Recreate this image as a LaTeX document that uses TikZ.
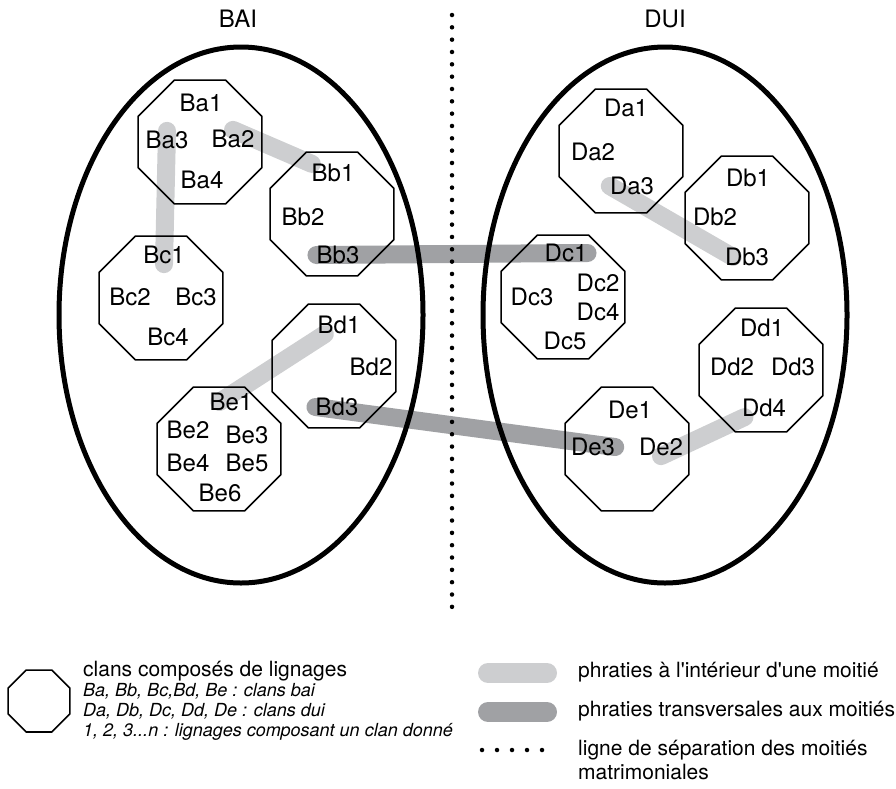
\documentclass[tikz,border=0pt]{standalone}
\usepackage{fontspec}
\setmainfont{TeX Gyre Heros}
\usetikzlibrary{shapes.geometric,backgrounds}
\definecolor{grisclair}{RGB}{205,206,208}
\definecolor{grisfonce}{RGB}{160,161,164}

\begin{document}
\begin{tikzpicture}[x=1pt,y=-1pt,
    moitie/.style ={ellipse, draw, line width=5pt, minimum width=364pt, minimum height=536pt, inner sep=0pt},
    clan/.style ={regular polygon, regular polygon sides=8, draw, line width=1.6pt, minimum size=134pt, inner sep=0pt},
    lignage/.style ={inner sep=0pt, font=\fontsize{24}{24}\selectfont},
    titre/.style ={anchor=base, inner sep=0pt, font=\fontsize{24}{24}\selectfont},
    legende/.style ={anchor=base west, inner sep=0pt, font=\fontsize{21}{21}\selectfont},
    detail/.style ={anchor=base west, inner sep=0pt, font=\fontsize{18}{18}\selectfont\itshape},
    intra/.style ={line width=18pt, line cap=round, grisclair},
    trans/.style ={line width=18pt, line cap=round, grisfonce},
    separation/.style ={line width=4.5pt, line cap=round, dash pattern=on 0pt off 12.33pt}]
   \useasboundingbox (0,0) rectangle (896,788);

   % les deux moities
   \node[titre] (bai) at (238,27) {BAI};
   \node[titre] (dui) at (665,27) {DUI};
   \node[moitie] (Bai) at (241,315) {};
   \node[moitie] (Dui) at (665,315) {};
   \coordinate (haut) at (452,15);
   \coordinate (bas) at (452,607);
   \draw[separation] (haut) to (bas);

   % clans bai
   \node[clan] (Ba) at (200,142) {};
   \node[clan] (Bb) at (332,214) {};
   \node[clan] (Bc) at (161,298) {};
   \node[clan] (Bd) at (334,366) {};
   \node[clan] (Be) at (219,449) {};
   \node[lignage] (Ba1) at (201,103) {Ba1};
   \node[lignage] (Ba2) at (233,139) {Ba2};
   \node[lignage] (Ba3) at (167,140) {Ba3};
   \node[lignage] (Ba4) at (202,180) {Ba4};
   \node[lignage] (Bb1) at (333,173) {Bb1};
   \node[lignage] (Bb2) at (303,217) {Bb2};
   \node[lignage] (Bb3) at (338,255) {Bb3};
   \node[lignage] (Bc1) at (164,255) {Bc1};
   \node[lignage] (Bc2) at (130,297) {Bc2};
   \node[lignage] (Bc3) at (196,297) {Bc3};
   \node[lignage] (Bc4) at (168,337) {Bc4};
   \node[lignage] (Bd1) at (339,325) {Bd1};
   \node[lignage] (Bd2) at (371,367) {Bd2};
   \node[lignage] (Bd3) at (337,407) {Bd3};
   \node[lignage] (Be1) at (231,402) {Be1};
   \node[lignage] (Be2) at (188,430) {Be2};
   \node[lignage] (Be3) at (247,435) {Be3};
   \node[lignage] (Be4) at (188,463) {Be4};
   \node[lignage] (Be5) at (247,463) {Be5};
   \node[lignage] (Be6) at (220,493) {Be6};

   % clans dui
   \node[clan] (Da) at (621,151) {};
   \node[clan] (Db) at (747,218) {};
   \node[clan] (Dc) at (563,297) {};
   \node[clan] (Dd) at (761,370) {};
   \node[clan] (De) at (627,449) {};
   \node[lignage] (Da1) at (626,108) {Da1};
   \node[lignage] (Da2) at (593,152) {Da2};
   \node[lignage] (Da3) at (632,186) {Da3};
   \node[lignage] (Db1) at (748,178) {Db1};
   \node[lignage] (Db2) at (715,217) {Db2};
   \node[lignage] (Db3) at (747,257) {Db3};
   \node[lignage] (Dc1) at (566,253) {Dc1};
   \node[lignage] (Dc2) at (598,283) {Dc2};
   \node[lignage] (Dc3) at (532,297) {Dc3};
   \node[lignage] (Dc4) at (598,312) {Dc4};
   \node[lignage] (Dc5) at (565,341) {Dc5};
   \node[lignage] (Dd1) at (762,328) {Dd1};
   \node[lignage] (Dd2) at (732,367) {Dd2};
   \node[lignage] (Dd3) at (793,367) {Dd3};
   \node[lignage] (Dd4) at (764,408) {Dd4};
   \node[lignage] (De1) at (630,410) {De1};
   \node[lignage] (De3) at (593,447) {De3};
   \node[lignage] (De2) at (661,447) {De2};

   % phratries
   \begin{pgfonlayer}{background}
   \draw[intra] (Ba3.north) to (Bc1.south);
   \draw[intra] (Ba2.north) to (Bb1);
   \draw[intra] (Bd1) to ([xshift=10pt]Be1.west);
   \draw[intra] (Da3.west) to ([xshift=8pt]Db3.west);
   \draw[intra] (De2.south) to (Dd4);
   \draw[trans] (Bb3.west) to (Dc1.east);
   \draw[trans] (Bd3.west) to (De3.east);
   \end{pgfonlayer}

   % legende
   \node[clan, minimum size=67pt] (legclan) at (39,701) {};
   \node[legende] (leg1) at (83,676) {clans composés de lignages};
   \node[detail] (leg2) at (83,696) {Ba, Bb, Bc,Bd, Be : clans bai};
   \node[detail] (leg3) at (83,716) {Da, Db, Dc, Dd, De : clans dui};
   \node[detail] (leg4) at (83,736) {1, 2, 3...n : lignages composant un clan donné};
   \coordinate (clair1) at (488,673);
   \coordinate (clair2) at (547,673);
   \coordinate (fonce1) at (488,712);
   \coordinate (fonce2) at (547,712);
   \coordinate (point1) at (482,750);
   \coordinate (point2) at (542,750);
   \draw[intra, line width=20pt] (clair1) to (clair2);
   \draw[trans, line width=20pt] (fonce1) to (fonce2);
   \draw[separation, dash pattern=on 0pt off 15pt] (point1) to (point2);
   \node[legende] (leg5) at (578,677) {phraties à l\textquotesingle intérieur d\textquotesingle une moitié};
   \node[legende] (leg6) at (578,716) {phraties transversales aux moitiés};
   \node[legende] (leg7) at (578,755) {ligne de séparation des moitiés};
   \node[legende] (leg8) at (578,779) {matrimoniales};
 \end{tikzpicture}
\end{document}
